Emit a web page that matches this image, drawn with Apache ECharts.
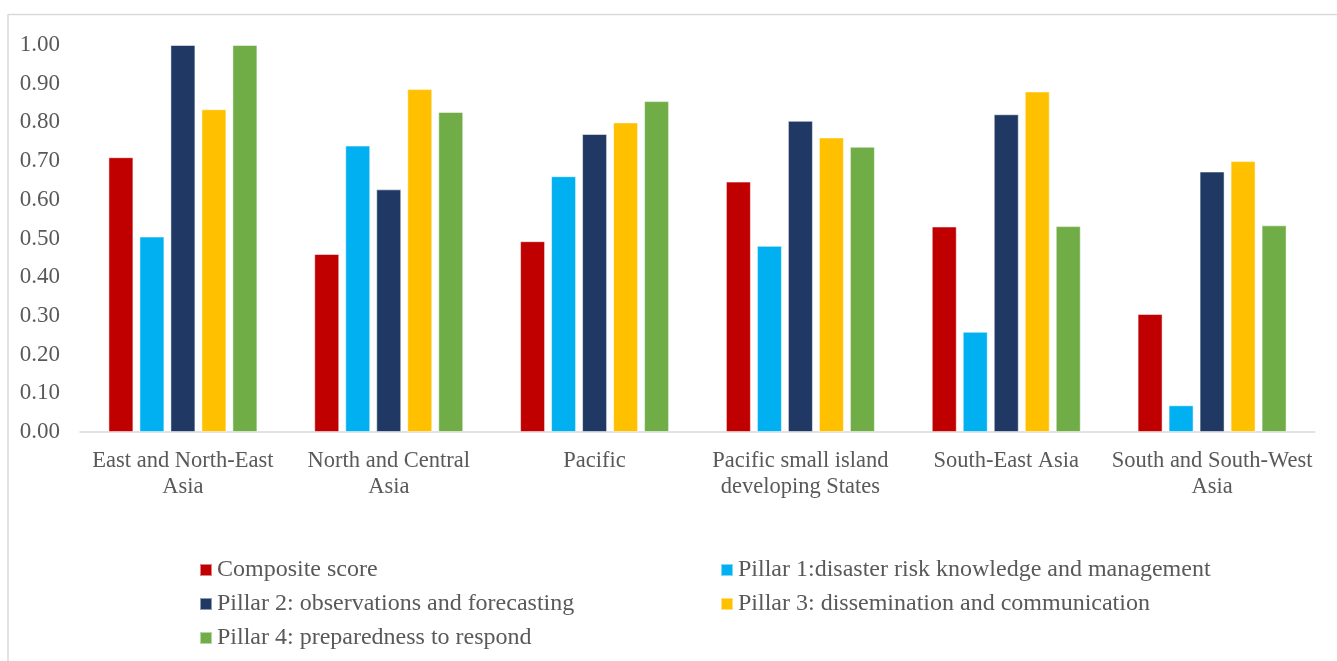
<!doctype html>
<html lang="en">
<head>
	<meta charset="utf-8" />
	<title>Regional scores</title>
	<script src="https://cdn.jsdelivr.net/npm/echarts@6/dist/echarts.min.js"></script>
	<style>
		html, body { margin: 0; padding: 0; background: #fff; }
		#chart { width: 1337px; height: 661px; }
	</style>
</head>
<body>
	<div id="chart"></div>
	<script>
		const regions = [
			'East and North-East\nAsia',
			'North and Central\nAsia',
			'Pacific',
			'Pacific small island\ndeveloping States',
			'South-East Asia',
			'South and South-West\nAsia'
		];
		const seriesNames = [
			'Composite score',
			'Pillar 1:disaster risk knowledge and management',
			'Pillar 2: observations and forecasting',
			'Pillar 3: dissemination and communication',
			'Pillar 4: preparedness to respond'
		];
		const composite = [0.71, 0.46, 0.493, 0.647, 0.531, 0.305];
		const pillar1 = [0.505, 0.74, 0.661, 0.481, 0.259, 0.069];
		const pillar2 = [1.0, 0.627, 0.77, 0.804, 0.821, 0.673];
		const pillar3 = [0.834, 0.886, 0.8, 0.761, 0.88, 0.70];
		const pillar4 = [1.0, 0.827, 0.855, 0.737, 0.532, 0.534];
		const colors = ['#C00000', '#00B0F0', '#1F3864', '#FFC000', '#70AD47'];

		const font = 'Liberation Serif, Times New Roman, serif';
		const textColor = '#595959';
		const values = [composite, pillar1, pillar2, pillar3, pillar4];

		const legendStyle = {
			orient: 'vertical',
			icon: 'rect',
			itemWidth: 12,
			itemHeight: 12,
			itemGap: 10,
			textStyle: { fontFamily: font, fontSize: 24, color: textColor, lineHeight: 23 }
		};

		const chart = echarts.init(document.getElementById('chart'));
		chart.setOption({
			animation: false,
			color: colors,
			grid: { left: 80, right: 22, top: 45, bottom: 229 },
			graphic: [
				{ type: 'line', shape: { x1: 8, y1: 14.5, x2: 1337, y2: 14.5 }, style: { stroke: '#D9D9D9', lineWidth: 1.5 } },
				{ type: 'line', shape: { x1: 8, y1: 14, x2: 8, y2: 661 }, style: { stroke: '#D9D9D9', lineWidth: 1.5 } }
			],
			legend: [
				Object.assign({ left: 194, top: 553, data: [seriesNames[0], seriesNames[2], seriesNames[4]] }, legendStyle),
				Object.assign({ left: 715, top: 553, data: [seriesNames[1], seriesNames[3]] }, legendStyle)
			],
			xAxis: {
				type: 'category',
				data: regions,
				axisLine: { lineStyle: { color: '#D9D9D9', width: 1.5 } },
				axisTick: { show: false },
				axisLabel: {
					interval: 0,
					margin: 16,
					fontFamily: font,
					fontSize: 22.5,
					lineHeight: 26,
					color: textColor
				}
			},
			yAxis: {
				type: 'value',
				min: 0,
				max: 1,
				interval: 0.1,
				splitLine: { show: false },
				axisLine: { show: false },
				axisTick: { show: false },
				axisLabel: {
					margin: 20,
					fontFamily: font,
					fontSize: 23,
					color: textColor,
					formatter: v => v.toFixed(2)
				}
			},
			series: seriesNames.map((name, i) => ({
				name: name,
				type: 'bar',
				data: values[i],
				barWidth: 25,
				barGap: '24%',
				itemStyle: { borderColor: 'rgba(255,255,255,0.5)', borderWidth: 1 }
			}))
		});
	</script>
</body>
</html>
